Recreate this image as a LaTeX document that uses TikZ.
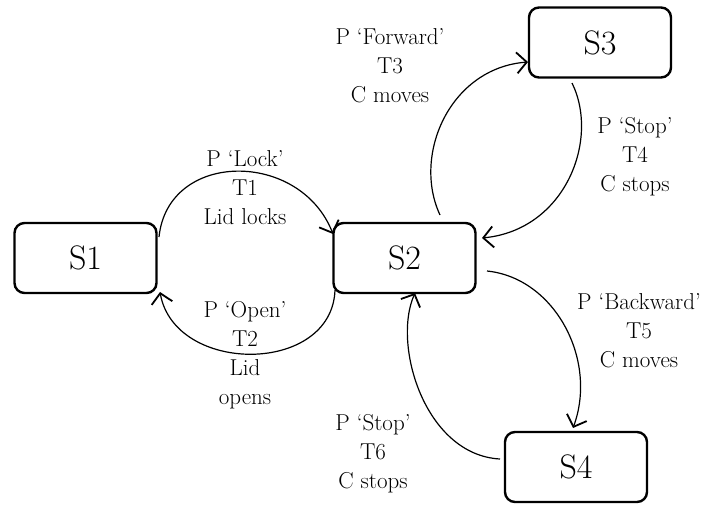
\documentclass[tikz,border=0pt]{standalone}
\usepackage{tikz}
\usetikzlibrary{arrows.meta}

\begin{document}
\begin{tikzpicture}[x=1pt,y=1pt,
  state/.style={draw,line width=2.4pt,rounded corners=10pt,minimum width=142pt,minimum height=70pt,font=\fontsize{34}{38}\selectfont},
  lbl/.style={align=center,font=\fontsize{23}{29}\selectfont},
  trans/.style={line width=1.2pt,-{Straight Barb[length=10pt,width=21pt,line width=1.8pt]}}]
\useasboundingbox (0,0) rectangle (711,-505);
\node[state] (s1) at (85.5,-258){S1};
\node[state] (s2) at (404.5,-258){S2};
\node[state] (s3) at (600,-42.5){S3};
\node[state] (s4) at (576,-467){S4};
\node[lbl] (l1) at (245,-188){P `Lock'\\T1\\Lid locks};
\node[lbl] (l2) at (245,-355.5){P `Open'\\T2\\Lid\\opens};
\node[lbl] (l3) at (390,-66){P `Forward'\\T3\\C moves};
\node[lbl] (l4) at (635,-157){P `Stop'\\T4\\C stops};
\node[lbl] (l5) at (639,-331){P `Backward'\\T5\\C moves};
\node[lbl] (l6) at (373,-454){P `Stop'\\T6\\C stops};
\coordinate (a1) at (159,-237);
\coordinate (b1) at (333,-234);
\coordinate (a2) at (335,-290);
\coordinate (b2) at (160,-292);
\coordinate (a3) at (440,-215);
\coordinate (b3) at (528,-62);
\coordinate (a4) at (572,-83);
\coordinate (b4) at (482,-238);
\coordinate (a5) at (487,-271);
\coordinate (b5) at (573,-428);
\coordinate (a6) at (500,-459);
\coordinate (b6) at (415,-293);
\draw[trans](a1) .. controls (168,-150) and (300,-150) .. (b1);
\draw[trans](a2) .. controls (332,-375) and (175,-375) .. (b2);
\draw[trans](a3) .. controls (412,-155) and (450,-68) .. (b3);
\draw[trans](a4) .. controls (600,-140) and (565,-230) .. (b4);
\draw[trans](a5) .. controls (555,-278) and (598,-360) .. (b5);
\draw[trans](a6) .. controls (425,-455) and (392,-345) .. (b6);
\end{tikzpicture}
\end{document}
